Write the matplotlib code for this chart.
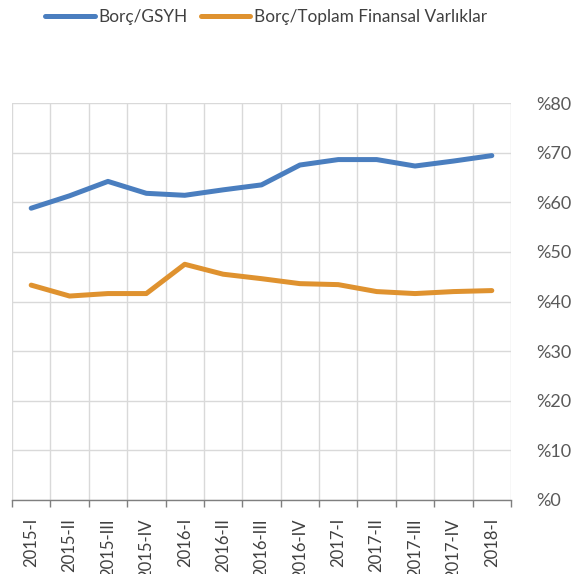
import matplotlib
matplotlib.use("Agg")
import matplotlib.pyplot as plt
from matplotlib.ticker import FixedLocator, FuncFormatter

categories = ["2015-I", "2015-II", "2015-III", "2015-IV", "2016-I", "2016-II", "2016-III",
              "2016-IV", "2017-I", "2017-II", "2017-III", "2017-IV", "2018-I"]
borc_gsyh = [58.8, 61.3, 64.2, 61.8, 61.4, 62.5, 63.5, 67.5, 68.6, 68.6, 67.3, 68.3, 69.4]
borc_varlik = [43.3, 41.1, 41.6, 41.6, 47.5, 45.5, 44.6, 43.6, 43.4, 42.0, 41.6, 42.0, 42.2]
yticks = [0, 10, 20, 30, 40, 50, 60, 70, 80]

plt.rcParams['font.family'] = ['Lato', 'DejaVu Sans']

fig = plt.figure(figsize=(5.81, 5.74), dpi=100)
ax = fig.add_axes([12/581, 1-500/574, (511-12)/581, (500-103)/574])

x = list(range(len(categories)))
blue = "#4a7ebf"
orange = "#df922f"
l1, = ax.plot(x, borc_gsyh, color=blue, lw=3.6, solid_capstyle='round', solid_joinstyle='round', label="Borç/GSYH")
l2, = ax.plot(x, borc_varlik, color=orange, lw=3.6, solid_capstyle='round', solid_joinstyle='round', label="Borç/Toplam Finansal Varlıklar")

ax.set_xlim(-0.5, len(categories) - 0.5)
ax.set_ylim(0, 80)

ax.set_xticks(x)
ax.set_xticklabels(categories, rotation=90, fontsize=12, color="#404040")
ax.xaxis.set_minor_locator(FixedLocator([i - 0.5 for i in range(len(categories) + 1)]))
ax.tick_params(axis='x', which='major', length=0, pad=13)
ax.tick_params(axis='x', which='minor', length=5, color="#7f7f7f", width=1, direction='out')

ax.yaxis.tick_right()
ax.set_yticks(yticks)
ax.yaxis.set_major_formatter(FuncFormatter(lambda v, p: "%" + str(int(v))))
ax.tick_params(axis='y', which='major', length=0, pad=18, labelsize=13, labelcolor="#595959")

ax.grid(True, axis='y', which='major', color="#d9d9d9", lw=1)
ax.grid(True, axis='x', which='minor', color="#d9d9d9", lw=1)
ax.set_axisbelow(True)

for s in ['top', 'left', 'right']:
    ax.spines[s].set_visible(False)
ax.spines['bottom'].set_color("#7f7f7f")
ax.spines['bottom'].set_linewidth(1)

fig.legend(handles=[l1, l2], loc='center', bbox_to_anchor=(266/581, 1-17/574), ncol=2,
           frameon=False, fontsize=12.4, handlelength=2.9, handletextpad=0.2, columnspacing=0.75,
           labelcolor="#404040")

fig.savefig("out.png", dpi=100)
